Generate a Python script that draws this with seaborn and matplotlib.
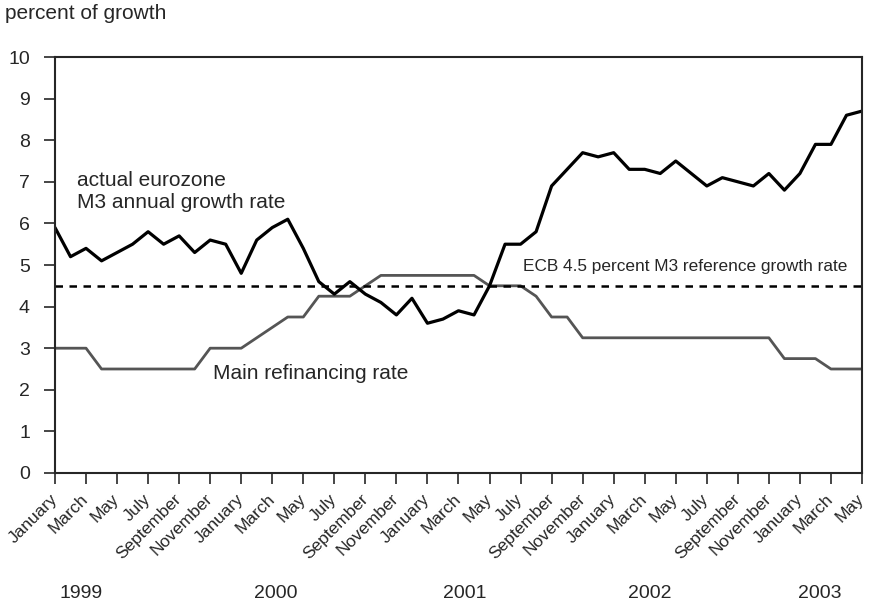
import numpy as np
import pandas as pd
import matplotlib
matplotlib.use('Agg')
import matplotlib.pyplot as plt
import seaborn as sns

# monthly values, January 1999 .. May 2003
month_names = ['January', 'February', 'March', 'April', 'May', 'June', 'July',
               'August', 'September', 'October', 'November', 'December']
m3_growth = [5.9, 5.2, 5.4, 5.1, 5.3, 5.5, 5.8, 5.5, 5.7, 5.3, 5.6, 5.5,
             4.8, 5.6, 5.9, 6.1, 5.4, 4.6, 4.3, 4.6, 4.3, 4.1, 3.8, 4.2,
             3.6, 3.7, 3.9, 3.8, 4.5, 5.5, 5.5, 5.8, 6.9, 7.3, 7.7, 7.6,
             7.7, 7.3, 7.3, 7.2, 7.5, 7.2, 6.9, 7.1, 7.0, 6.9, 7.2, 6.8,
             7.2, 7.9, 7.9, 8.6, 8.7]
refi_rate = [3.0, 3.0, 3.0, 2.5, 2.5, 2.5, 2.5, 2.5, 2.5, 2.5, 3.0, 3.0,
             3.0, 3.25, 3.5, 3.75, 3.75, 4.25, 4.25, 4.25, 4.5, 4.75, 4.75, 4.75,
             4.75, 4.75, 4.75, 4.75, 4.5, 4.5, 4.5, 4.25, 3.75, 3.75, 3.25, 3.25,
             3.25, 3.25, 3.25, 3.25, 3.25, 3.25, 3.25, 3.25, 3.25, 3.25, 3.25, 2.75,
             2.75, 2.75, 2.5, 2.5, 2.5]
reference_rate = 4.5
years = ['1999', '2000', '2001', '2002', '2003']

n = len(m3_growth)
df = pd.DataFrame({'month': np.arange(n), 'm3': m3_growth, 'refi': refi_rate})

sns.set_style('ticks')
plt.rcParams['font.family'] = ['Liberation Sans', 'DejaVu Sans']

fig = plt.figure(figsize=(8.7, 6.04), dpi=100)
ax = fig.add_axes([0.0632, 0.2169, 0.9276, 0.6887])

sns.lineplot(data=df, x='month', y='refi', color='#555555', linewidth=2.0, ax=ax)
sns.lineplot(data=df, x='month', y='m3', color='black', linewidth=2.3, ax=ax)
ax.axhline(reference_rate, color='black', linewidth=1.8, linestyle=(0, (3, 2.6)))

ax.set_xlim(0, n - 1)
ax.set_ylim(0, 10)
ax.set_yticks(range(0, 11))
ticks = np.arange(0, n, 2)
ax.set_xticks(ticks)
ax.set_xticklabels([month_names[t % 12] for t in ticks], rotation=45, ha='right',
                   va='center', rotation_mode='anchor', fontsize=12.5)
ax.tick_params(axis='y', labelsize=14, length=8, width=1.2, pad=10)
ax.tick_params(axis='x', length=8, width=1.2, pad=9)
ax.set_xlabel('')
ax.set_ylabel('')
for s in ax.spines.values():
    s.set_linewidth(1.5)

ax.text(1.4, 6.77, 'actual eurozone\nM3 annual growth rate', fontsize=15,
        linespacing=1.25, va='center')
ax.text(10.2, 2.4, 'Main refinancing rate', fontsize=15, va='center')
ax.text(30.15, 4.97, 'ECB 4.5 percent M3 reference growth rate', fontsize=12.4, va='center')
fig.text(0.006, 0.977, 'percent of growth', fontsize=15, va='center')

year_pos = [1.7, 14.2, 26.4, 38.3, 49.3]
for yp, yr in zip(year_pos, years):
    ax.text(yp, -0.29, yr, transform=ax.get_xaxis_transform(), ha='center',
            va='center', fontsize=14)

fig.savefig('out.png', dpi=100)
